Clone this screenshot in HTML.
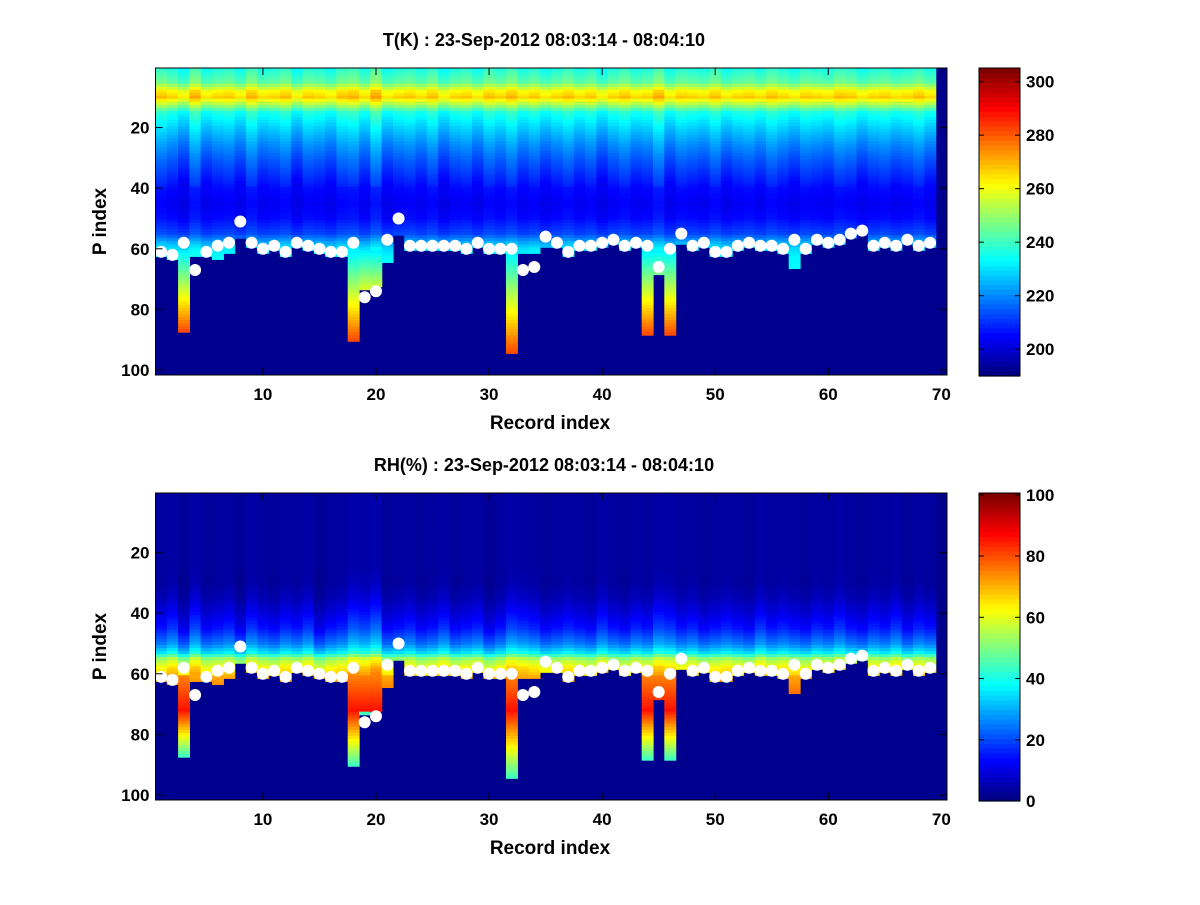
<!DOCTYPE html>
<html><head><meta charset="utf-8"><style>
body{margin:0;background:#fff;}
svg text{font-family:"Liberation Sans",sans-serif;font-weight:bold;fill:#000;}
</style></head><body>
<svg id="fig" width="1200" height="900" xmlns="http://www.w3.org/2000/svg">
<rect width="1200" height="900" fill="#fff"/>
</svg>
<script>
// ---- data ----
const records = Array.from({length:69},(_,i)=>i+1);
const surfaceDots = [61,62,58,67,61,59,58,51,58,60,59,61,58,59,60,61,61,58,76,74,57,50,59,59,59,59,59,60,58,60,60,60,67,66,56,58,61,59,59,58,57,59,58,59,66,60,55,59,58,61,61,59,58,59,59,60,57,60,57,58,57,55,54,59,58,59,57,59,58];
const dataBottoms = [62,63,87,62,62,63,61,56,59,61,60,62,59,60,61,62,62,90,73,72,64,55,60,60,60,60,60,61,59,61,61,94,61,61,59,59,62,60,60,59,58,60,59,88,68,88,58,60,59,62,62,60,59,60,60,61,66,61,58,59,58,56,55,60,59,60,58,60,59];
const tempLevels = [1,5,8,10,12,15,20,25,30,35,40,45,50,55,58,60,63];
const tempValues = [237,244,262,267,255,236,228,221,215,210,205,203,205,212,224,230,234];
const tempOffsets = [2,0,-3,4,-2,0,1,-2,3,-1,0,2,-3,1,0,-2,2,3,-1,5,-2,0,1,-1,2,-3,0,1,-2,2,0,3,-1,1,-2,0,2,-1,1,-3,0,2,-1,0,4,-2,1,0,-1,2,-2,0,1,-1,2,0,-2,1,0,-1,2,1,-2,0,1,-1,0,2,-1];
const rhLevels = [1,30,35,40,45,50,53,55,58,60,63];
const rhValues = [3,3,5,9,14,24,35,52,62,66,68];
const rhOffsets = [0,2,-2,3,-1,0,1,-2,2,0,-1,1,0,2,-2,0,1,4,3,5,-1,0,1,-1,0,2,-1,0,1,-2,0,3,2,1,-1,0,1,0,-1,2,0,-1,1,0,3,2,0,1,-1,0,1,0,-1,2,0,1,0,-1,1,0,2,0,-1,1,0,2,-1,1,0];
const tempTicks=[200,220,240,260,280,300];
const rhTicks=[0,20,40,60,80,100];
const xTicks=[10,20,30,40,50,60,70];
const yTicks=[20,40,60,80,100];

const NS="http://www.w3.org/2000/svg";
const svg=document.getElementById('fig');
function mk(tag,attrs,parent){const e=document.createElementNS(NS,tag);for(const k in attrs)e.setAttribute(k,attrs[k]);(parent||svg).appendChild(e);return e;}
function jet(t){t=Math.max(0,Math.min(1,t));
 const r=Math.max(0,Math.min(1,1.5-Math.abs(4*t-3))),g=Math.max(0,Math.min(1,1.5-Math.abs(4*t-2))),b=Math.max(0,Math.min(1,1.5-Math.abs(4*t-1)));
 return `rgb(${Math.round(r*255)},${Math.round(g*255)},${Math.round(b*255)})`;}
function interp(L,V,p){if(p<=L[0])return V[0];for(let i=1;i<L.length;i++){if(p<=L[i]){const f=(p-L[i-1])/(L[i]-L[i-1]);return V[i-1]+f*(V[i]-V[i-1]);}}return V[V.length-1];}
const X0=155.5,X1=947;
const xs=v=>X0+(v-0.5)*(X1-X0)/70;
function panel(top,kind){
 const ys=p=>top+0.5+(p-0.5)*3.03;
 const bot=top+307;
 const g=mk('g',{});
 
 
 mk('rect',{x:X0,y:top,width:X1-X0,height:bot-top,fill:'#00008f'},g);
 const vmin=kind==='temp'?190:0, vmax=kind==='temp'?305:100;
 records.forEach((r,i)=>{
  const b=dataBottoms[i];
  const normEnd=Math.min(b,60);
  const n=b-normEnd;
  for(let p=1;p<=b;p++){
   let v;
   if(kind==='temp'){
     if(p<=normEnd) v=interp(tempLevels,tempValues,p)+tempOffsets[i]*(p<40?1.2:0.6);
     else if(n<8) v=interp(tempLevels,tempValues,p)+tempOffsets[i]*0.6;
     else { const st=interp(tempLevels,tempValues,normEnd); v=st+(p-normEnd)*52/n*Math.min(1,n/25);}
   } else {
     const w=Math.max(0,Math.min(1,(p-25)/20));
     if(p<=normEnd) v=interp(rhLevels,rhValues,p)+rhOffsets[i]*(0.3+1.5*w);
     else if(n<8) v=70+(p-normEnd);
     else { const d=p-normEnd; v = d<12?74+d*1.0:86-(d-12)*42/Math.max(1,n-12); }
   }
   const rc=mk('rect',{x:xs(r-0.5),y:ys(p-0.5),width:(X1-X0)/70+0.6,height:3.6,fill:jet((v-vmin)/(vmax-vmin))},g);
   
   
  }
 });
 records.forEach((r,i)=>{
  const c=mk('circle',{cx:xs(r),cy:ys(surfaceDots[i]),r:6,fill:'#fff'});
  
  
 });
 const ax=mk('rect',{x:X0,y:top,width:X1-X0,height:bot-top,fill:'none',stroke:'#000','stroke-width':1});
 
 
 xTicks.forEach(t=>{const x=xs(t);
  mk('line',{x1:x,x2:x,y1:bot,y2:bot-7,stroke:'#000'});mk('line',{x1:x,x2:x,y1:top,y2:top+7,stroke:'#000'});
  const tx=mk('text',{x:x,y:bot+25,'text-anchor':'middle','font-size':17});tx.textContent=t;
  
  });
 yTicks.forEach(t=>{const y=ys(t);
  mk('line',{x1:X0,x2:X0+7,y1:y,y2:y,stroke:'#000'});mk('line',{x1:X1,x2:X1-7,y1:y,y2:y,stroke:'#000'});
  const tx=mk('text',{x:X0-6,y:y+6,'text-anchor':'end','font-size':17});tx.textContent=t;
  
  });
 const xl=mk('text',{x:550,y:bot+54,'text-anchor':'middle','font-size':19});xl.textContent='Record index';
 
 
 const yl=mk('text',{x:0,y:0,'text-anchor':'middle','font-size':19,transform:`translate(106,${(top+bot)/2}) rotate(-90)`});yl.textContent='P index';
 
 
 const tt=mk('text',{x:544,y:top-22,'text-anchor':'middle','font-size':18});
 tt.textContent=(kind==='temp'?'T(K)':'RH(%)')+' : 23-Sep-2012 08:03:14 - 08:04:10';
 
 
 // colorbar
 const cbTop=top, cbBot=top+308, cx0=979, cx1=1020;
 const ticks=kind==='temp'?tempTicks:rhTicks;
 const cmin=kind==='temp'?190:0, cmax=kind==='temp'?305.1:100.6;
 const cy=v=>cbBot-(v-cmin)/(cmax-cmin)*(cbBot-cbTop);
 const cb=mk('g',{});
 
 
 for(let k=0;k<64;k++){const y0=cbBot-(k+1)*(cbBot-cbTop)/64;
  mk('rect',{x:cx0,y:y0,width:cx1-cx0,height:(cbBot-cbTop)/64+0.6,fill:jet(k/63)},cb);}
 mk('rect',{x:cx0,y:cbTop,width:cx1-cx0,height:cbBot-cbTop,fill:'none',stroke:'#000'},cb);
 ticks.forEach(t=>{const y=cy(t);
  mk('line',{x1:cx0,x2:cx0+5,y1:y,y2:y,stroke:'#000'},cb);mk('line',{x1:cx1,x2:cx1-5,y1:y,y2:y,stroke:'#000'},cb);
  const tx=mk('text',{x:cx1+6,y:y+6,'font-size':17},cb);tx.textContent=t;
  
  });
}
panel(68,'temp');
panel(493,'rh');
</script>
</body></html>
